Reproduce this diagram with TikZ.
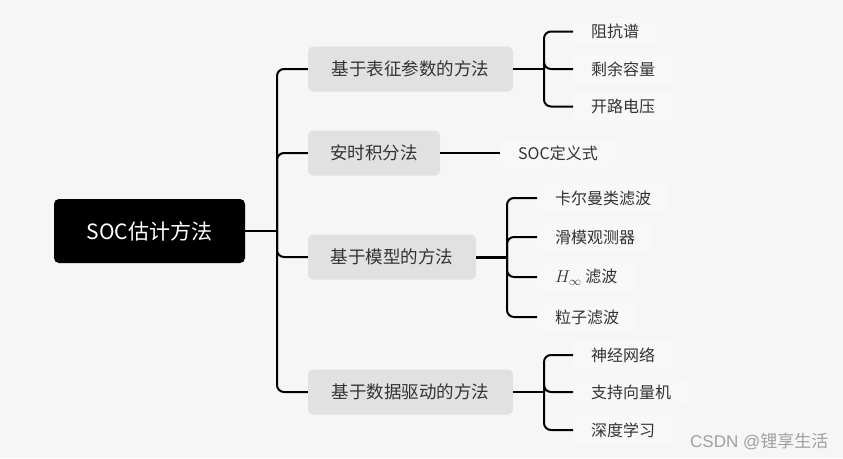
\documentclass[tikz,border=0pt]{standalone}
\usepackage{fontspec}
\setmainfont{Noto Sans CJK SC}
\newfontfamily\wmfont{Liberation Sans}
\definecolor{bgc}{HTML}{F6F6F6}
\definecolor{lonefill}{HTML}{E1E1E1}
\definecolor{leaffill}{HTML}{F8F8F8}
\definecolor{txt}{HTML}{333333}
\definecolor{wmc}{HTML}{A0A0A0}
\begin{document}
\begin{tikzpicture}[x=1pt,y=-1pt,
  rootbox/.style={fill=black, text=white, rounded corners=5pt, minimum width=191pt, minimum height=64pt, inner sep=0pt, font=\fontsize{21}{25}\selectfont},
  lonebox/.style={fill=lonefill, text=txt, rounded corners=5pt, minimum height=45pt, inner sep=0pt, font=\fontsize{17.5}{21}\selectfont},
  leafbox/.style={fill=leaffill, text=txt, rounded corners=5pt, minimum height=28pt, inner xsep=18pt, inner ysep=0pt, anchor=west, font=\fontsize{16}{19}\selectfont},
  conn/.style={line width=2pt, rounded corners=7pt},
  thickconn/.style={line width=3pt}
]
\fill[bgc] (0,0) rectangle (843,458);
\useasboundingbox (0,0) rectangle (843,458);

% root and level-1
\node[rootbox] (root) at (149.5,231) {SOC估计方法};
\node[lonebox, minimum width=205pt] (a) at (410.5,69) {基于表征参数的方法};
\node[lonebox, minimum width=132pt] (b) at (374,153) {安时积分法};
\node[lonebox, minimum width=168pt] (c) at (392,257) {基于模型的方法};
\node[lonebox, minimum width=205pt] (d) at (410.5,392) {基于数据驱动的方法};

% leaves
\node[leafbox] (a1) at (573,31.5) {阻抗谱};
\node[leafbox] (a2) at (573,69) {剩余容量};
\node[leafbox] (a3) at (573,106.5) {开路电压};
\node[leafbox] (b1) at (500,153) {SOC定义式};
\node[leafbox] (c1) at (537,198) {卡尔曼类滤波};
\node[leafbox] (c2) at (537,237) {滑模观测器};
\node[leafbox] (c3) at (537,277) {{\fontsize{18}{21}\selectfont$H_\infty$} 滤波};
\node[leafbox] (c4) at (537,317) {粒子滤波};
\node[leafbox] (d1) at (573,355) {神经网络};
\node[leafbox] (d2) at (573,392) {支持向量机};
\node[leafbox] (d3) at (573,430) {深度学习};

% trunk
\coordinate (j0) at (277,231);
\draw[line width=2pt] (root.east) -- (j0);
\foreach \n in {a,b,c,d} \draw[conn] (j0) |- (\n.west);

% branch a
\coordinate (ja) at (544,69);
\draw[line width=2pt] (a.east) -- (ja);
\foreach \n in {a1,a2,a3} \draw[conn] (ja) |- (\n.west);

% branch b
\draw[line width=2pt] (b.east) -- (b1.west);

% branch c
\coordinate (jc) at (507,257);
\draw[thickconn] (c.east) -- (jc);
\foreach \n in {c1,c2,c3,c4} \draw[conn] (jc) |- (\n.west);

% branch d
\coordinate (jd) at (544,392);
\draw[line width=2pt] (d.east) -- (jd);
\foreach \n in {d1,d2,d3} \draw[conn] (jd) |- (\n.west);

% watermark
\node[anchor=west, text=wmc, inner sep=0pt, font=\fontsize{17}{20}\selectfont] (wm) at (690,441) {{\wmfont CSDN @}锂享生活};
\end{tikzpicture}
\end{document}
